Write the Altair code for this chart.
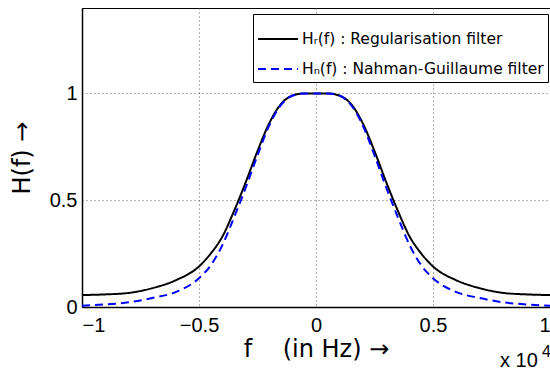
import altair as alt
import pandas as pd

# frequency in units of 10^4 Hz
freq = [-1.0, -0.9, -0.8, -0.7, -0.6, -0.5, -0.45, -0.4, -0.35, -0.3, -0.25, -0.2, -0.15, -0.1, -0.05,
        0.0, 0.05, 0.1, 0.15, 0.2, 0.25, 0.3, 0.35, 0.4, 0.45, 0.5, 0.6, 0.7, 0.8, 0.9, 1.0]
h_reg = [0.056, 0.059, 0.066, 0.088, 0.125, 0.19, 0.25, 0.33, 0.45, 0.585, 0.73, 0.86, 0.95, 0.99, 1.0,
         1.0, 1.0, 0.99, 0.95, 0.86, 0.73, 0.585, 0.45, 0.33, 0.25, 0.19, 0.125, 0.088, 0.066, 0.059, 0.056]
h_nah = [0.006, 0.012, 0.022, 0.042, 0.07, 0.135, 0.195, 0.29, 0.42, 0.56, 0.71, 0.85, 0.945, 0.99, 1.0,
         1.0, 1.0, 0.99, 0.945, 0.85, 0.71, 0.56, 0.42, 0.29, 0.195, 0.135, 0.07, 0.042, 0.022, 0.012, 0.006]

series_names = ["Hᵣ(f) : Regularisation filter", "Hₙ(f) : Nahman-Guillaume filter"]
series_colors = ["#000000", "#0000ff"]
series_dashes = [[1, 0], [8, 5]]
x_ticks = [-1, -0.5, 0, 0.5, 1]
y_ticks = [0, 0.5, 1]
x_title = "f\u00a0\u00a0\u00a0\u00a0(in\u00a0Hz)\u00a0→"
y_title = "H(f)\u00a0→"
exp_base = ["x 10"]
exp_power = ["4"]

rows = []
for name, vals in zip(series_names, [h_reg, h_nah]):
    for f, h in zip(freq, vals):
        rows.append({"f": f, "H": h, "series": name})
df = pd.DataFrame(rows)

W, H = 468, 299

legend = alt.Legend(
    title=None, orient="none", legendX=171, legendY=6,
    strokeColor="black", fillColor="white", padding=4, rowPadding=0,
    symbolType="stroke", symbolSize=1600, symbolStrokeWidth=2,
    labelFont="DejaVu Sans", labelFontSize=15.5, labelColor="black", labelLimit=400, labelOffset=3,
    cornerRadius=0,
)

lines = alt.Chart(df).mark_line(strokeWidth=2, interpolate="monotone").encode(
    x=alt.X("f:Q", scale=alt.Scale(domain=[-1, 1], nice=False),
            axis=alt.Axis(values=x_ticks, format="~g", title=x_title,
                          titleX=W / 2, titleY=49, titleAnchor="middle", titleBaseline="alphabetic",
                          labelPadding=8)),
    y=alt.Y("H:Q", scale=alt.Scale(domain=[0, 1.4], nice=False),
            axis=alt.Axis(values=y_ticks, format="~g", title=y_title,
                          titleX=-60, titleY=H / 2, titleAngle=-90, titleAlign="center",
                          titleBaseline="middle", labelPadding=5)),
    color=alt.Color("series:N", scale=alt.Scale(domain=series_names, range=series_colors),
                    sort=series_names, legend=legend),
    strokeDash=alt.StrokeDash("series:N", scale=alt.Scale(domain=series_names, range=series_dashes),
                              sort=series_names, legend=legend),
)

base_txt = alt.Chart(pd.DataFrame({"t": exp_base})).mark_text(
    font="Liberation Sans", fontSize=20, align="left", baseline="alphabetic", color="black"
).encode(text="t:N", x=alt.value(418), y=alt.value(359))

pow_txt = alt.Chart(pd.DataFrame({"t": exp_power})).mark_text(
    font="Liberation Sans", fontSize=16, align="left", baseline="alphabetic", color="black"
).encode(text="t:N", x=alt.value(460), y=alt.value(349))

chart = alt.layer(lines, base_txt, pow_txt).properties(
    width=W, height=H,
    autosize=alt.AutoSizeParams(type="none"),
    padding={"left": 82, "top": 8, "right": 0, "bottom": 64},
).configure_view(
    stroke="black", strokeWidth=1
).configure_axis(
    grid=True, gridColor="#666666", gridDash=[1, 3], gridOpacity=1, gridWidth=1,
    domainColor="black", domainWidth=1.5, ticks=False,
    labelFont="Liberation Sans", labelFontSize=20, labelColor="black",
    titleFont="DejaVu Sans", titleFontSize=24, titleFontWeight="normal", titleColor="black",
)

chart.save("out.html", embed_options={"renderer": "svg", "actions": False})
